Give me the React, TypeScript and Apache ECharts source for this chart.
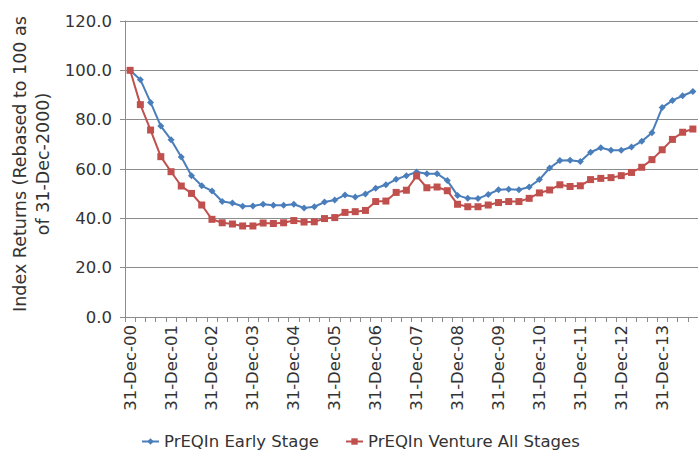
import React, { useEffect, useRef } from "react";
import * as echarts from "echarts";

const categories = [
  "31-Dec-00", "31-Mar-01", "30-Jun-01", "30-Sep-01",
  "31-Dec-01", "31-Mar-02", "30-Jun-02", "30-Sep-02",
  "31-Dec-02", "31-Mar-03", "30-Jun-03", "30-Sep-03",
  "31-Dec-03", "31-Mar-04", "30-Jun-04", "30-Sep-04",
  "31-Dec-04", "31-Mar-05", "30-Jun-05", "30-Sep-05",
  "31-Dec-05", "31-Mar-06", "30-Jun-06", "30-Sep-06",
  "31-Dec-06", "31-Mar-07", "30-Jun-07", "30-Sep-07",
  "31-Dec-07", "31-Mar-08", "30-Jun-08", "30-Sep-08",
  "31-Dec-08", "31-Mar-09", "30-Jun-09", "30-Sep-09",
  "31-Dec-09", "31-Mar-10", "30-Jun-10", "30-Sep-10",
  "31-Dec-10", "31-Mar-11", "30-Jun-11", "30-Sep-11",
  "31-Dec-11", "31-Mar-12", "30-Jun-12", "30-Sep-12",
  "31-Dec-12", "31-Mar-13", "30-Jun-13", "30-Sep-13",
  "31-Dec-13", "31-Mar-14", "30-Jun-14", "30-Sep-14",
];

const earlyStage = [
  100.0, 96.2, 87.0, 77.4, 71.9, 64.9, 57.3, 53.2, 51.1, 46.8, 46.2, 44.9, 45.0, 45.7,
  45.3, 45.3, 45.7, 44.2, 44.7, 46.6, 47.4, 49.5, 48.6, 49.9, 52.2, 53.6, 55.8, 57.3,
  58.8, 58.1, 58.1, 55.3, 49.3, 48.1, 48.0, 49.7, 51.6, 51.8, 51.6, 52.7, 55.7, 60.4,
  63.4, 63.5, 63.0, 66.8, 68.6, 67.6, 67.6, 68.9, 71.2, 74.7, 84.9, 87.8, 89.7, 91.4,
];

const ventureAll = [
  100.0, 86.1, 75.8, 65.0, 58.9, 53.1, 50.1, 45.4, 39.6, 38.2, 37.7, 36.9, 36.9, 38.1,
  37.9, 38.2, 39.1, 38.5, 38.6, 39.9, 40.3, 42.4, 42.7, 43.2, 46.8, 47.0, 50.5, 51.4,
  57.2, 52.4, 52.7, 51.2, 45.7, 44.7, 44.7, 45.4, 46.4, 46.8, 46.8, 48.1, 50.3, 51.5,
  53.6, 52.9, 53.2, 55.7, 56.2, 56.5, 57.3, 58.6, 60.7, 63.8, 67.8, 72.0, 74.9, 76.2,
];

const seriesNames = ["PrEQIn Early Stage", "PrEQIn Venture All Stages"];
const yAxisTitle = "Index Returns (Rebased to 100 as\nof 31-Dec-2000)";

const FONT = "DejaVu Sans";

export default function App() {
  const ref = useRef<HTMLDivElement>(null);

  useEffect(() => {
    if (!ref.current) return;
    const chart = echarts.init(ref.current, undefined, { renderer: "svg" });
    chart.setOption({
      animation: false,
      backgroundColor: "#ffffff",
      textStyle: { fontFamily: FONT },
      grid: { left: 125, right: -2, top: 21, bottom: 135, containLabel: false },
      legend: {
        left: 136,
        top: 428,
        itemWidth: 17,
        itemHeight: 8,
        itemGap: 26,
        textStyle: { fontFamily: FONT, fontSize: 16.5, color: "#333333" },
        data: seriesNames,
      },
      graphic: [
        {
          type: "text",
          x: 31,
          y: 164,
          rotation: Math.PI / 2,
          style: {
            text: yAxisTitle,
            fontFamily: FONT,
            fontSize: 17.5,
            fill: "#333333",
            align: "center",
            verticalAlign: "middle",
            lineHeight: 23,
          },
        },
      ],
      xAxis: {
        type: "category",
        data: categories,
        boundaryGap: true,
        axisLine: { show: true, lineStyle: { color: "#8c8c8c", width: 1 } },
        axisTick: {
          show: true,
          inside: false,
          length: 5,
          interval: 0,
          lineStyle: { color: "#8c8c8c" },
        },
        axisLabel: {
          interval: 3,
          rotate: 90,
          margin: 8,
          fontFamily: FONT,
          fontSize: 16.5,
          color: "#333333",
        },
        splitLine: { show: false },
      },
      yAxis: {
        type: "value",
        min: 0,
        max: 120,
        interval: 20,
        axisLine: { show: true, lineStyle: { color: "#8c8c8c", width: 1 } },
        axisTick: { show: true, inside: false, length: 5, lineStyle: { color: "#8c8c8c" } },
        axisLabel: {
          margin: 13,
          fontFamily: FONT,
          fontSize: 16.5,
          color: "#333333",
          formatter: (v: number) => v.toFixed(1),
        },
        splitLine: { show: true, lineStyle: { color: "#8c8c8c", width: 1 } },
      },
      series: [
        {
          name: seriesNames[0],
          type: "line",
          data: earlyStage,
          symbol: "diamond",
          symbolSize: 7,
          showAllSymbol: true,
          lineStyle: { color: "#4a7ebb", width: 2 },
          itemStyle: { color: "#4a7ebb" },
        },
        {
          name: seriesNames[1],
          type: "line",
          data: ventureAll,
          symbol: "rect",
          symbolSize: 7,
          showAllSymbol: true,
          lineStyle: { color: "#c0504d", width: 2 },
          itemStyle: { color: "#c0504d" },
        },
      ],
    });
    return () => chart.dispose();
  }, []);

  return (
    <div
      ref={ref}
      style={{ position: "absolute", left: 0, top: 0, width: 698, height: 452 }}
    />
  );
}
